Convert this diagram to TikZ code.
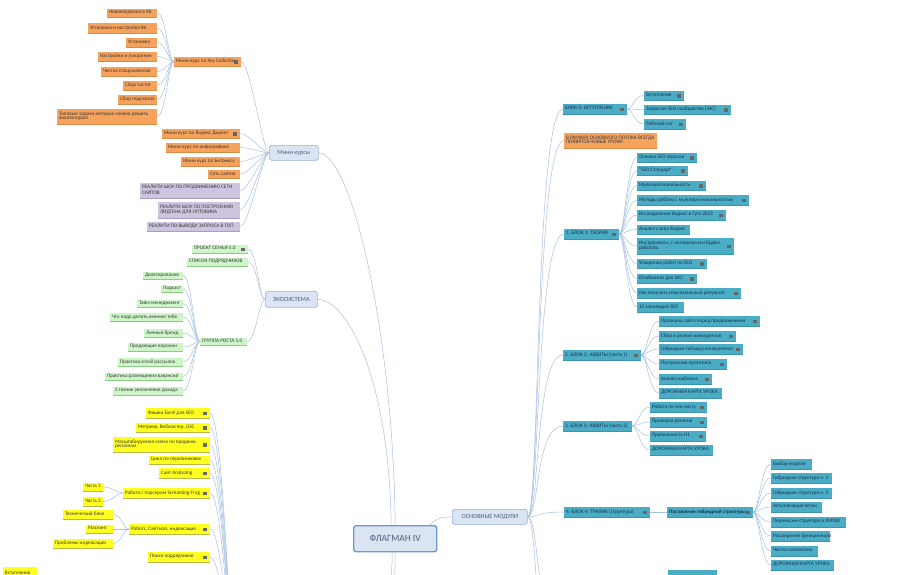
\documentclass[tikz,border=0pt]{standalone}
\usepackage{fontspec}
\setmainfont{Carlito}
\usetikzlibrary{calc}
\definecolor{orF}{HTML}{F5A25D}\definecolor{orE}{HTML}{D98A45}
\definecolor{puF}{HTML}{CDC4E0}\definecolor{puE}{HTML}{A99CC8}
\definecolor{grF}{HTML}{CDF5C8}\definecolor{grE}{HTML}{8CCB85}
\definecolor{yeF}{HTML}{FFFF1F}\definecolor{yeE}{HTML}{B8B84A}
\definecolor{teF}{HTML}{4BACC6}\definecolor{teE}{HTML}{3B93AC}
\definecolor{mainF}{HTML}{DAE4F3}\definecolor{mainB}{HTML}{97B3DC}
\definecolor{flB}{HTML}{7097CF}\definecolor{mainT}{HTML}{4F6079}
\definecolor{lineC}{HTML}{A8C0E2}
\definecolor{txtD}{HTML}{3A3A3A}\definecolor{txtT}{HTML}{17324C}
\newcommand\bxtab[1]{{\renewcommand\arraystretch{0.8}\begin{tabular}{@{}l@{}}#1\end{tabular}}}
\def\bxicon{i}
\newcommand\bx[8]{%
  \pgfmathsetmacro\bxw{#5-#3-4}%
  \pgfmathsetmacro\bxh{#6-#4}%
  \node[#2, minimum height=\bxh pt] (#1) at (#3,#4) {\makebox[\bxw pt][l]{\bxtab{#8}}};%
  \draw[#2-e] (#1.south west) -- (#1.south east);%
  \def\bxtmp{#7}\ifx\bxtmp\bxicon\pic at ([xshift=-5pt]#1.east) {noteicon};\fi
}
\newcommand\mn[7]{%
  \pgfmathsetmacro\bxw{#5-#3}%
  \pgfmathsetmacro\bxh{#6-#4}%
  \node[#2, minimum width=\bxw pt, minimum height=\bxh pt] (#1) at (#3,#4) {#7};%
}
\newcommand\cl[2]{\draw[cn] (#1.west) .. controls +(-6,0) and +(9,0) .. (#2.east);}
\newcommand\cra[2]{\draw[cn] (#1.east) .. controls +(6,0) and +(-10,0) .. (#2.west);}
\newcommand\crb[2]{\draw[cn] (#1.east) .. controls +(12,0) and +(-28,0) .. (#2);}
\newcommand\cy[1]{\draw[cn] (ylw) .. controls +(-4,0) and +(14,0) .. (#1.east);}
\begin{document}
\begin{tikzpicture}[x=1pt,y=-1pt,
  cn/.style={draw=lineC, line width=0.5pt},
  nb/.style={anchor=north west, inner xsep=2pt, inner ysep=0pt, outer sep=0pt,
    font=\fontsize{5.2}{6}\selectfont, text=txtD},
  orn/.style={nb, fill=orF}, orn-e/.style={draw=orE, line width=0.5pt},
  pun/.style={nb, fill=puF}, pun-e/.style={draw=puE, line width=0.5pt},
  grn/.style={nb, fill=grF}, grn-e/.style={draw=grE, line width=0.5pt},
  yen/.style={nb, fill=yeF}, yen-e/.style={draw=yeE, line width=0.5pt},
  ten/.style={nb, fill=teF, text=txtT}, ten-e/.style={draw=teE, line width=0.4pt},
  tenb/.style={ten, font=\fontsize{5.2}{6}\selectfont\bfseries}, tenb-e/.style={ten-e},
  mainn/.style={draw=mainB, fill=mainF, rounded corners=2.5pt, line width=0.7pt,
    inner sep=0pt, anchor=north west, font=\fontsize{6.3}{7}\selectfont, text=mainT},
  flag/.style={mainn, draw=flB, line width=1.4pt, font=\fontsize{9.5}{11}\selectfont},
  noteicon/.pic={\draw[line width=0.2pt, draw=black!60] (-1.5,-1.4) rectangle (1.5,1.4) (-0.9,-0.5) -- (0.9,-0.5) (-0.9,0.5) -- (0.9,0.5);}
]
\useasboundingbox (0,0) rectangle (899,574);
\fill[white] (0,0) rectangle (899,574);
\clip (0,0) rectangle (899,574);

% ---------- central & main nodes
\mn{fl}{flag}{353}{525}{436}{551}{ФЛАГМАН IV}
\mn{om}{mainn}{452}{509}{527}{524}{ОСНОВНЫЕ МОДУЛИ}
\mn{mk}{mainn}{269}{145}{318}{160}{Мини курсы}
\mn{eco}{mainn}{265}{291}{317}{307}{ЭКОСИСТЕМА}

% ---------- Key Collector
\bx{kc}{orn}{174}{57}{241}{66}{i}{Мини курс по Key Collector}
\bx{k1}{orn}{107}{9}{157}{17}{}{Нововведения в КК}
\bx{k2}{orn}{88}{23}{157}{33}{}{Установка и настройка КК}
\bx{k3}{orn}{126}{38}{157}{47}{}{Установка}
\bx{k4}{orn}{98}{52}{157}{61}{}{Настройки и ускорение}
\bx{k5}{orn}{101}{67}{157}{76}{}{Чистка спецсимволов}
\bx{k6}{orn}{123}{81}{157}{90}{}{Сбор частот}
\bx{k7}{orn}{118}{95}{157}{104}{}{Сбор подсказок}
\bx{k8}{orn}{57}{109}{157}{124}{}{Типовые задачи которые можно решить\\коллектором}

% ---------- mini courses
\bx{m2}{orn}{162}{129}{240}{138}{i}{Мини курс по Яндекс Директ}
\bx{m3}{orn}{166}{143}{240}{152}{}{Мини курс по инфографике}
\bx{m4}{orn}{181}{157}{240}{166}{}{Мини курс по Битриксу}
\bx{m5}{orn}{208}{170}{240}{178}{}{Сеть сайтов}
\bx{p1}{pun}{140}{183}{240}{198}{}{РЕАЛИТИ ШОУ ПО ПРОДВИЖЕНИЮ СЕТИ\\САЙТОВ}
\bx{p2}{pun}{158}{202}{240}{218}{}{РЕАЛИТИ ШОУ ПО ПОСТРОЕНИЮ\\ЛИДГЕНА ДЛЯ ОПТОВИКА}
\bx{p3}{pun}{147}{222}{240}{231}{}{РЕАЛИТИ ПО ВЫВОДУ ЗАПРОСА В ТОП}

% ---------- ecosystem
\bx{g1}{grn}{192}{245}{248}{253}{i}{ПРОЕКТ СЕМЬЯ 5.0}
\bx{g2}{grn}{187}{258}{248}{266}{}{СПИСОК ПОДРЯДЧИКОВ}
\bx{g3}{grn}{200}{338}{247}{345}{}{ГРУППА РОСТА 5.0}
\bx{h1}{grn}{143}{272}{183}{279}{}{Делегирование}
\bx{h2}{grn}{161}{286}{183}{292}{}{Подкаст}
\bx{h3}{grn}{137}{300}{183}{307}{}{Тайм менеджмент}
\bx{h4}{grn}{110}{313}{183}{321}{}{Что надо делать именно тебе}
\bx{h5}{grn}{144}{329}{183}{337}{}{Личный бренд}
\bx{h6}{grn}{128}{343}{183}{351}{}{Продающие воронки}
\bx{h7}{grn}{118}{358}{183}{366}{}{Практика email рассылок}
\bx{h8}{grn}{105}{373}{183}{380}{}{Практика размещения вакансий}
\bx{h9}{grn}{113}{387}{183}{395}{}{5 техник увеличения дохода}

% ---------- yellow branch
\bx{y1}{yen}{146}{408}{210}{418}{i}{Фишки Excel для SEO}
\bx{y2}{yen}{136}{423}{210}{432}{i}{Метрика, Вебмастер, GSC}
\bx{y3}{yen}{113}{437}{210}{452}{i}{Масштабируемая схема по продвиж.\\регионам}
\bx{y4}{yen}{149}{456}{210}{464}{}{Цикл по перелинковке}
\bx{y5}{yen}{159}{468}{210}{478}{i}{Сайт Analyzing}
\bx{y6}{yen}{123}{488}{210}{498}{i}{Работа с парсером Screaming Frog}
\bx{ya}{yen}{83}{483}{103}{491}{}{Часть 1}
\bx{yb}{yen}{83}{497}{103}{506}{}{Часть 2}
\bx{y7}{yen}{129}{524}{210}{534}{i}{Роботс, Сайтмап, индексация}
\bx{yc}{yen}{63}{510}{113}{519}{}{Технический блок}
\bx{yd}{yen}{86}{525}{113}{533}{}{Маскинг}
\bx{ye}{yen}{53}{539}{113}{548}{}{Проблемы индексации}
\bx{y8}{yen}{148}{552}{210}{562}{i}{Поиск подрядчиков}
\bx{y9}{yen}{3}{567}{37}{580}{}{Вступление}

% ---------- right: modules
\bx{b0}{ten}{563}{104}{627}{114}{i}{БЛОК 0: ВСТУПЛЕНИЕ}
\bx{c01}{ten}{644}{91}{684}{100}{i}{Вступление}
\bx{c02}{ten}{644}{105}{731}{114}{i}{Закрытое SEO сообщество (ЗSC)}
\bx{c03}{ten}{644}{119}{686}{129}{i}{Рабочий чат}
\bx{bo}{orn}{564}{133}{657}{148}{}{В РАМКАХ ОСНОВНОГО ПОТОКА ВСЕГДА\\ПОЯВЯТСЯ НОВЫЕ УРОКИ}

\bx{b1}{ten}{564}{229}{619}{239}{i}{1. БЛОК 1: ТЕОРИЯ}
\bx{t1}{ten}{637}{153}{697}{162}{i}{Основы SEO отрасли}
\bx{t2}{ten}{637}{166}{688}{175}{i}{“SEO Стандарт”}
\bx{t3}{ten}{637}{181}{706}{190}{i}{Мультирегиональность}
\bx{t4}{ten}{637}{195}{749}{205}{i}{Методы работы с мультирегиональностью}
\bx{t5}{ten}{637}{210}{726}{220}{i}{Исследование Яндекс и Гугл 2023}
\bx{t6}{ten}{637}{225}{690}{234}{}{Анализ слива Яндекс}
\bx{t7}{ten}{637}{238}{734}{254}{i}{Инструменты, с которыми мы будем\\работать}
\bx{t8}{ten}{637}{259}{707}{268}{i}{Ускорение работ по SEO}
\bx{t9}{ten}{637}{274}{697}{283}{i}{Юзабилити для SEO}
\bx{t10}{ten}{637}{288}{741}{298}{i}{Как получить максимальный результат}
\bx{t11}{ten}{637}{302}{684}{312}{}{10 заповедей SEO}

\bx{b2}{ten}{563}{350}{641}{360}{i}{2. БЛОК 2: АУДИТЫ (часть 1)}
\bx{a1}{ten}{659}{316}{760}{326}{i}{Проверка сайта перед продвижением}
\bx{a2}{ten}{659}{331}{736}{341}{i}{Сбор и анализ конкурентов}
\bx{a3}{ten}{659}{344}{743}{354}{i}{Гибридная таблица конкурентов}
\bx{a4}{ten}{659}{359}{727}{369}{i}{Построение прототипа}
\bx{a5}{ten}{659}{374}{712}{384}{i}{Анализ шаблона}
\bx{a6}{ten}{659}{388}{722}{398}{}{ДОРОЖНАЯ КАРТА УРОКА}

\bx{b3}{ten}{563}{421}{632}{431}{}{3. БЛОК 3: АУДИТЫ (часть 2)}
\bx{d1}{ten}{650}{402}{707}{412}{i}{Работа по чек-листу}
\bx{d2}{ten}{650}{417}{707}{427}{i}{Проверка региона}
\bx{d3}{ten}{650}{431}{706}{441}{i}{Правильность H1}
\bx{d4}{ten}{650}{445}{713}{455}{}{ДОРОЖНАЯ КАРТА УРОКА}

\bx{b4}{ten}{564}{507}{650}{517}{i}{4. БЛОК 4: ТРАФИК (структура)}
\bx{s0}{tenb}{667}{507}{753}{517}{i}{Построение гибридной структуры}
\bx{s1}{ten}{771}{459}{812}{469}{}{Выбор модели}
\bx{s2}{ten}{771}{473}{832}{483}{}{Гибридная структура ч. 1}
\bx{s3}{ten}{771}{488}{832}{498}{}{Гибридная структура ч. 2}
\bx{s4}{ten}{771}{502}{822}{512}{}{Актуализация ветки}
\bx{s5}{ten}{771}{517}{846}{527}{}{Переносим структуру в XMIND}
\bx{s6}{ten}{771}{531}{830}{541}{}{Расширение функционала}
\bx{s7}{ten}{771}{546}{818}{556}{}{Чистка семантики}
\bx{s8}{ten}{771}{560}{834}{570}{}{ДОРОЖНАЯ КАРТА УРОКА}
\bx{bn}{ten}{668}{570}{717}{582}{}{}

% ---------- off-canvas anchors
\coordinate (ylw) at (236,700);
\coordinate (ylwE) at (330,700);
\coordinate (dn2) at (300,800);
\coordinate (b5w) at (564,640);
\coordinate (b5e) at (650,640);
\coordinate (b6w) at (564,760);

% ---------- connectors
\draw[cn] (fl.north) .. controls +(-2,-195) and +(32,0) .. (mk.east);
\draw[cn] ([xshift=-4pt]fl.north) .. controls +(-2,-145) and +(30,0) .. (eco.east);
\draw[cn] ([xshift=-8pt]fl.north east) .. controls +(6,-6) and +(-12,0) .. (om.west);
\draw[cn] (fl.south) .. controls +(0,100) and +(40,0) .. (ylwE);
\draw[cn] ([xshift=-3pt]fl.south) .. controls +(0,120) and +(20,0) .. (dn2);

\cl{mk}{kc}\cl{mk}{m2}\cl{mk}{m3}\cl{mk}{m4}\cl{mk}{m5}\cl{mk}{p1}\cl{mk}{p2}\cl{mk}{p3}
\cl{kc}{k1}\cl{kc}{k2}\cl{kc}{k3}\cl{kc}{k4}\cl{kc}{k5}\cl{kc}{k6}\cl{kc}{k7}\cl{kc}{k8}
\cl{eco}{g1}\cl{eco}{g2}\cl{eco}{g3}
\cl{g3}{h1}\cl{g3}{h2}\cl{g3}{h3}\cl{g3}{h4}\cl{g3}{h5}\cl{g3}{h6}\cl{g3}{h7}\cl{g3}{h8}\cl{g3}{h9}
\cy{y1}\cy{y2}\cy{y3}\cy{y4}\cy{y5}\cy{y6}\cy{y7}\cy{y8}
\cl{y6}{ya}\cl{y6}{yb}
\cl{y7}{yc}\cl{y7}{yd}\cl{y7}{ye}

\crb{om}{b0.west}\crb{om}{bo.west}\crb{om}{b1.west}\crb{om}{b2.west}\crb{om}{b3.west}\crb{om}{b4.west}
\crb{om}{b5w}\crb{om}{b6w}
\cra{b0}{c01}\cra{b0}{c02}\cra{b0}{c03}
\cra{b1}{t1}\cra{b1}{t2}\cra{b1}{t3}\cra{b1}{t4}\cra{b1}{t5}\cra{b1}{t6}\cra{b1}{t7}\cra{b1}{t8}\cra{b1}{t9}\cra{b1}{t10}\cra{b1}{t11}
\cra{b2}{a1}\cra{b2}{a2}\cra{b2}{a3}\cra{b2}{a4}\cra{b2}{a5}\cra{b2}{a6}
\cra{b3}{d1}\cra{b3}{d2}\cra{b3}{d3}\cra{b3}{d4}
\cra{b4}{s0}
\cra{s0}{s1}\cra{s0}{s2}\cra{s0}{s3}\cra{s0}{s4}\cra{s0}{s5}\cra{s0}{s6}\cra{s0}{s7}\cra{s0}{s8}
\draw[cn] (b5e) .. controls +(6,0) and +(-10,0) .. (bn.west);
\end{tikzpicture}
\end{document}
